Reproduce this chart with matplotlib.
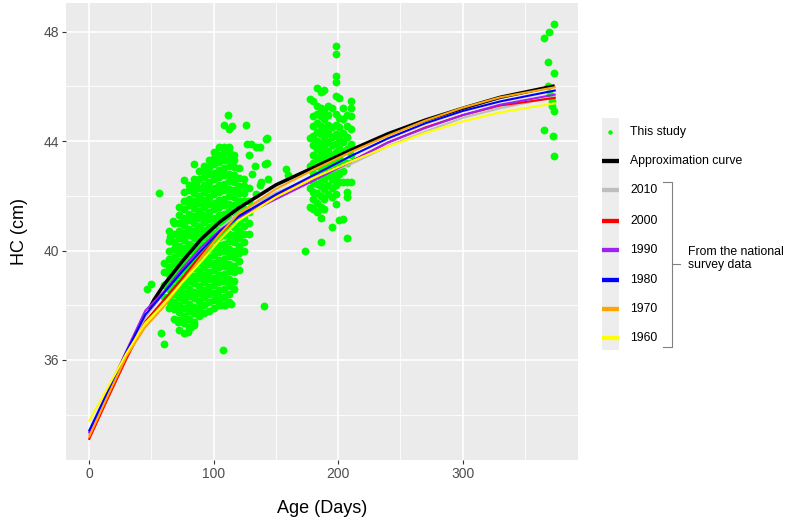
import matplotlib
matplotlib.use("Agg")
import matplotlib.pyplot as plt

plt.rcParams['font.family'] = ['Liberation Sans', 'DejaVu Sans']

# ---------------- data ----------------
# national survey curves (day, head circumference cm)
national_day = [0, 15, 30, 45, 60, 75, 90, 105, 120, 150, 180, 210, 240, 270, 300, 330, 374]
hc_2010 = [33.28, 34.75, 36.2, 37.55, 38.45, 39.3, 40.05, 40.8, 41.38, 42.12, 42.65, 43.15, 43.82, 44.35, 44.85, 45.2, 45.62]
hc_2000 = [33.11, 34.6, 36.05, 37.4, 38.2, 39.0, 39.85, 40.6, 41.25, 42.0, 42.65, 43.25, 43.95, 44.5, 44.95, 45.3, 45.58]
hc_1990 = [33.35, 34.85, 36.35, 37.8, 38.5, 39.35, 40.12, 40.75, 41.2, 41.88, 42.55, 43.25, 43.95, 44.48, 44.95, 45.33, 45.7]
hc_1980 = [33.42, 34.85, 36.3, 37.65, 38.45, 39.25, 40.0, 40.7, 41.25, 42.05, 42.75, 43.45, 44.1, 44.65, 45.1, 45.45, 45.85]
hc_1970 = [33.2, 34.7, 36.15, 37.2, 37.95, 38.85, 39.75, 40.6, 41.35, 42.25, 42.95, 43.6, 44.2, 44.75, 45.22, 45.6, 45.97]
hc_1960 = [33.78, 35.0, 36.25, 37.35, 38.05, 38.85, 39.6, 40.4, 41.1, 41.95, 42.65, 43.25, 43.8, 44.3, 44.72, 45.05, 45.38]

# approximation curve
approx_day = [48, 52, 60, 75, 90, 105, 120, 150, 180, 210, 240, 270, 300, 330, 374]
approx_hc = [37.85, 38.2, 38.75, 39.62, 40.42, 41.05, 41.55, 42.4, 43.03, 43.67, 44.27, 44.77, 45.2, 45.6, 46.02]

# this study: 3-4 month check-up (per day column)
m3_col_day = [60, 64, 68, 72, 76, 80, 84, 88, 92, 96, 100, 104, 108, 112, 116, 120, 124, 128]
m3_col_hc = [
    [38.3, 38.75, 39.2, 39.55],
    [37.9, 38.3, 38.6, 38.85, 39.15, 39.4, 39.7, 40.0, 40.35, 40.7],
    [37.5, 37.85, 38.1, 38.4, 38.65, 38.95, 39.2, 39.5, 39.75, 40.05, 40.3, 40.6, 41.0],
    [37.1, 37.45, 37.75, 38.0, 38.3, 38.55, 38.8, 39.1, 39.35, 39.6, 39.9, 40.15, 40.45, 40.7, 41.0, 41.3, 41.6],
    [37.0, 37.35, 37.6, 37.9, 38.2, 38.45, 38.75, 39.0, 39.3, 39.55, 39.85, 40.1, 40.4, 40.65, 40.95, 41.2, 41.5, 41.8, 42.15],
    [37.2, 37.5, 37.8, 38.05, 38.35, 38.6, 38.9, 39.15, 39.45, 39.7, 40.0, 40.25, 40.55, 40.8, 41.1, 41.35, 41.65, 41.9, 42.2, 42.4],
    [37.4, 37.7, 37.95, 38.25, 38.5, 38.8, 39.05, 39.35, 39.6, 39.9, 40.15, 40.45, 40.7, 41.0, 41.25, 41.55, 41.8, 42.1, 42.35, 42.6],
    [37.6, 37.9, 38.15, 38.45, 38.7, 39.0, 39.25, 39.55, 39.8, 40.1, 40.35, 40.65, 40.9, 41.2, 41.45, 41.75, 42.0, 42.3, 42.6, 42.9],
    [37.7, 38.0, 38.3, 38.55, 38.85, 39.1, 39.4, 39.65, 39.95, 40.2, 40.5, 40.75, 41.05, 41.3, 41.6, 41.85, 42.15, 42.4, 42.7, 42.95, 43.1],
    [37.8, 38.1, 38.4, 38.65, 38.95, 39.2, 39.5, 39.75, 40.05, 40.3, 40.6, 40.85, 41.15, 41.4, 41.7, 41.95, 42.25, 42.5, 42.8, 43.05, 43.3],
    [37.9, 38.2, 38.45, 38.75, 39.0, 39.3, 39.55, 39.85, 40.1, 40.4, 40.65, 40.95, 41.2, 41.5, 41.75, 42.05, 42.3, 42.6, 42.85, 43.15, 43.4, 43.6],
    [38.0, 38.3, 38.55, 38.85, 39.1, 39.4, 39.65, 39.95, 40.2, 40.5, 40.75, 41.05, 41.3, 41.6, 41.85, 42.15, 42.4, 42.7, 42.95, 43.25, 43.5, 43.8],
    [38.0, 38.3, 38.6, 38.9, 39.15, 39.45, 39.7, 40.0, 40.25, 40.55, 40.8, 41.1, 41.35, 41.65, 41.9, 42.2, 42.45, 42.75, 43.0, 43.3, 43.55, 43.8],
    [38.1, 38.4, 38.7, 38.95, 39.25, 39.5, 39.8, 40.05, 40.35, 40.6, 40.9, 41.15, 41.45, 41.7, 42.0, 42.25, 42.55, 42.8, 43.1, 43.35, 43.6, 43.8],
    [38.6, 38.9, 39.2, 39.45, 39.75, 40.0, 40.3, 40.55, 40.85, 41.1, 41.4, 41.65, 41.95, 42.2, 42.5, 42.75, 43.05, 43.3, 43.5],
    [39.3, 39.6, 39.9, 40.15, 40.45, 40.7, 41.0, 41.25, 41.55, 41.8, 42.1, 42.35, 42.65, 43.0],
    [40.0, 40.3, 40.6, 40.9, 41.2, 41.5, 41.8, 42.1, 42.35, 42.6],
    [40.6, 41.0, 41.4, 41.8, 42.3],
]

# this study: scattered individual points around the 3-4 month group
m3_extra_day = [56.4, 111.1, 108.3, 112.4, 114.7, 126.3, 142.4, 134.1, 126.9, 128.5, 141.3, 84.1,
                75.8, 67.5, 64.7, 46.6, 50.0, 64.7, 57.7, 59.7, 71.6, 79.1, 81.9, 84.1, 107.4,
                140.2, 104.1, 109.1, 130.0, 137.0, 143.0, 142.5, 138.0, 144.0, 131.0, 133.0,
                134.0, 137.4, 86.0, 88.0, 106.0, 114.0, 158.3, 159.7, 173.1]
m3_extra_hc = [42.1, 44.97, 44.58, 44.46, 44.54, 44.58, 44.09, 43.79, 43.91, 43.48, 43.18, 43.18,
               42.57, 41.08, 40.49, 38.59, 38.78, 38.11, 36.99, 36.58, 37.38, 37.01, 37.19, 37.26, 36.38,
               37.96, 38.11, 37.99, 43.9, 43.78, 44.1, 43.2, 42.5, 42.6, 42.8, 43.1,
               42.08, 42.38, 42.5, 37.8, 38.02, 38.05, 42.99, 42.75, 40.0]

# this study: 6-7 month check-up (per day column)
m6_col_day = [177, 180, 183, 186, 189, 192, 195, 198, 201, 204, 207, 210]
m6_col_hc = [
    [45.55, 44.1, 43.1, 42.3, 41.6],
    [45.47, 44.9, 44.55, 44.2, 43.85, 43.5, 43.2, 42.85, 42.5, 42.15, 41.9, 41.5],
    [45.96, 45.3, 45.0, 44.65, 44.35, 44.0, 43.7, 43.4, 43.1, 42.75, 42.45, 42.1, 41.75, 41.4],
    [45.8, 45.2, 44.9, 44.55, 44.25, 43.9, 43.6, 43.3, 43.0, 42.65, 42.35, 42.0, 41.6, 41.2, 40.3],
    [45.86, 45.1, 44.8, 44.45, 44.1, 43.8, 43.5, 43.2, 42.9, 42.6, 42.25, 41.9, 41.5],
    [45.3, 44.95, 44.6, 44.3, 43.95, 43.65, 43.35, 43.05, 42.75, 42.4, 42.05],
    [45.2, 44.5, 44.15, 43.85, 43.5, 43.2, 42.9, 42.6, 42.3, 41.95, 40.86],
    [47.49, 47.18, 46.38, 46.17, 45.64, 45.0, 44.6, 44.25, 43.9, 43.6, 43.3, 43.0, 42.7, 42.4, 42.08, 41.71],
    [45.56, 44.85, 44.5, 44.1, 43.75, 43.4, 43.1, 42.8, 42.5, 41.1],
    [45.2, 44.8, 44.3, 43.95, 43.6, 43.25, 42.9, 42.5, 41.16],
    [44.95, 44.55, 44.15, 43.7, 43.2, 42.5, 42.14, 41.96, 40.47],
    [45.47, 45.2, 44.9, 44.46, 43.9, 43.5, 42.51],
]

# this study: 12 month check-up
m12_day = [373.7, 369.6, 365.6, 368.3, 373.7, 368.3, 371.5, 371.5, 373.7, 365.6, 372.3, 373.7, 370.5]
m12_hc = [48.27, 48.0, 47.78, 46.88, 46.5, 46.01, 45.47, 45.28, 45.1, 44.4, 44.19, 43.47, 45.68]

x_ticks = [0, 100, 200, 300]
y_ticks = [36, 40, 44, 48]
legend_labels = ["This study", "Approximation curve", "2010", "2000", "1990", "1980", "1970", "1960"]
legend_colors = ["#00FF00", "#000000", "#BEBEBE", "#FF0000", "#A020F0", "#0000FF", "#FFA500", "#FFFF00"]
bracket_text = "From the national\nsurvey data"

# ---------------- figure ----------------
W, H = 786, 525
fig = plt.figure(figsize=(W / 100, H / 100), dpi=100)
fig.patch.set_facecolor("white")
ax = fig.add_axes([66 / W, 65 / H, 512 / W, 457 / H])
ax.set_facecolor("#EBEBEB")
for s in ax.spines.values():
    s.set_visible(False)

ax.set_xlim(-18.7, 392.7)
ax.set_ylim(32.34, 49.05)
ax.set_xticks(x_ticks)
ax.set_yticks(y_ticks)
ax.set_xticks([50, 150, 250, 350], minor=True)
ax.set_yticks([34, 38, 42, 46], minor=True)
ax.grid(which="major", color="white", lw=1.2)
ax.grid(which="minor", color="white", lw=0.6)
ax.set_axisbelow(True)
ax.tick_params(which="major", length=2.6, width=0.8, color="#333333",
               labelsize=10, labelcolor="#4D4D4D", pad=2.5)
ax.tick_params(which="minor", length=0)

green = "#00FF00"
pts_x, pts_y = [], []
for d, vals in zip(m3_col_day, m3_col_hc):
    pts_x += [d] * len(vals)
    pts_y += vals
pts_x += m3_extra_day
pts_y += m3_extra_hc
for d, vals in zip(m6_col_day, m6_col_hc):
    pts_x += [d] * len(vals)
    pts_y += vals
pts_x += m12_day
pts_y += m12_hc
ax.scatter(pts_x, pts_y, s=32, color=green, linewidths=0, zorder=2)

ax.plot(approx_day, approx_hc, color="black", lw=2.5, zorder=3, solid_capstyle="butt")
for hc, col in [(hc_2010, "#BEBEBE"), (hc_2000, "#FF0000"), (hc_1990, "#A020F0"),
                (hc_1980, "#0000FF"), (hc_1970, "#FFA500"), (hc_1960, "#FFFF00")]:
    ax.plot(national_day, hc, color=col, lw=1.5, zorder=3)

ax.set_xlabel("Age (Days)", fontsize=13, color="black")
ax.set_ylabel("HC (cm)", fontsize=13, color="black")
ax.xaxis.set_label_coords(0.5, -0.088)
ax.yaxis.set_label_coords(-0.075, 0.5)

# ---------------- legend (drawn in pixel space) ----------------
lg = fig.add_axes([0, 0, 1, 1])
lg.set_xlim(0, W)
lg.set_ylim(H, 0)
lg.axis("off")
lg.add_patch(plt.Rectangle((601.5, 118), 17.5, 232, color="#EDEDED", lw=0))
ys = [132.3, 161, 190, 220.5, 250, 280, 309.3, 338.3]
for i, (lab, col, y) in enumerate(zip(legend_labels, legend_colors, ys)):
    if i == 0:
        lg.plot([610], [y], "o", ms=3.2, color=col, mew=0)
    else:
        lg.plot([601.5, 619], [y, y], color=col, lw=3.1, solid_capstyle="butt")
    lg.text(630, y, lab, fontsize=8.8, va="center", ha="left", color="black")

bc = "#808080"
lg.plot([662.7, 671.7, 671.7, 662.7], [181.7, 181.7, 346.7, 346.7], color=bc, lw=0.8)
lg.plot([671.7, 680], [264, 264], color=bc, lw=0.8)
lg.text(687.7, 258.5, bracket_text, fontsize=8.8, va="center", ha="left",
        color="black", linespacing=1.15)

fig.savefig("out.png", dpi=100)
